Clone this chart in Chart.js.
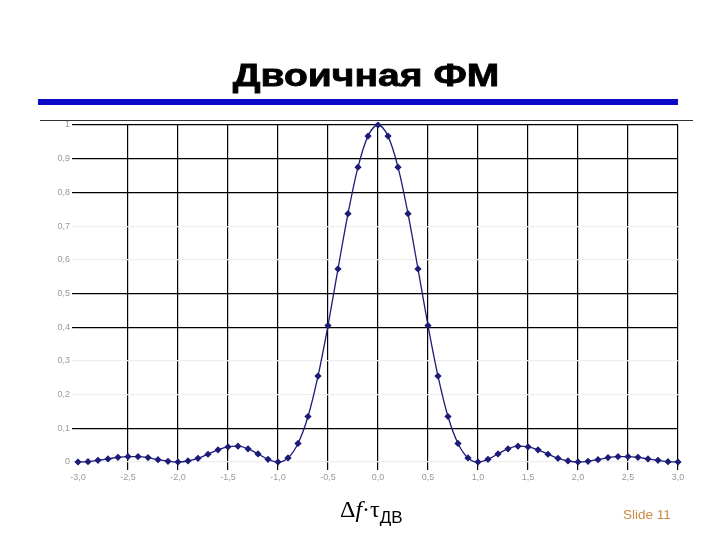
<!DOCTYPE html>
<html><head><meta charset="utf-8">
<script src="https://cdn.jsdelivr.net/npm/chart.js@4/dist/chart.umd.min.js"></script>
<style>
html,body{margin:0;padding:0;background:#fff;width:720px;height:540px;overflow:hidden;position:relative;font-family:"Liberation Sans",Arial,sans-serif}
#c{position:absolute;left:0;top:0}
#title{position:absolute;left:366px;top:57px;white-space:nowrap;font:bold 32px "Liberation Sans",Arial,sans-serif;color:#000;transform:translateX(-50%) scaleX(1.22);-webkit-text-stroke:0.8px #000}
#bar{position:absolute;left:38px;top:99px;width:640px;height:6px;background:#0a0ac8}
#topline{position:absolute;left:40px;top:120px;width:653px;height:1px;background:#333}
#xlab{position:absolute;left:340px;top:496px;font:24px "Liberation Serif","Times New Roman",serif;color:#000;white-space:nowrap}
#xlab sub{font:17px "Liberation Sans",Arial,sans-serif;vertical-align:-6px}
#slide{position:absolute;left:623px;top:507px;font:13.5px "Liberation Sans",Arial,sans-serif;color:#c98a4a}
</style></head><body>
<canvas id="c" width="720" height="540"></canvas>
<div id="title">Двоичная ФМ</div>
<div id="bar"></div>
<div id="topline"></div>
<div id="xlab">&Delta;<i>f</i>&middot;&tau;<sub>ДВ</sub></div>
<div id="slide">Slide 11</div>
<script>
const xValues = [-3.0,-2.9,-2.8,-2.7,-2.6,-2.5,-2.4,-2.3,-2.2,-2.1,-2.0,-1.9,-1.8,-1.7,-1.6,-1.5,-1.4,-1.3,-1.2,-1.1,-1.0,-0.9,-0.8,-0.7,-0.6,-0.5,-0.4,-0.3,-0.2,-0.1,0.0,0.1,0.2,0.3,0.4,0.5,0.6,0.7,0.8,0.9,1.0,1.1,1.2,1.3,1.4,1.5,1.6,1.7,1.8,1.9,2.0,2.1,2.2,2.3,2.4,2.5,2.6,2.7,2.8,2.9,3.0];
const yValues = [0.000,0.001,0.005,0.009,0.014,0.016,0.016,0.013,0.007,0.002,0.000,0.003,0.011,0.023,0.036,0.045,0.047,0.039,0.024,0.008,0.000,0.012,0.055,0.135,0.255,0.405,0.573,0.737,0.875,0.967,1.000,0.967,0.875,0.737,0.573,0.405,0.255,0.135,0.055,0.012,0.000,0.008,0.024,0.039,0.047,0.045,0.036,0.023,0.011,0.003,0.000,0.002,0.007,0.013,0.016,0.016,0.014,0.009,0.005,0.001,0.000];
const xTickValues = [-3.0,-2.5,-2.0,-1.5,-1.0,-0.5,0.0,0.5,1.0,1.5,2.0,2.5,3.0];
const xTickLabels = ["-3,0","-2,5","-2,0","-1,5","-1,0","-0,5","0,0","0,5","1,0","1,5","2,0","2,5","3,0"];
const yTickValues = [0,0.1,0.2,0.3,0.4,0.5,0.6,0.7,0.8,0.9,1];
const yTickLabels = ["0","0,1","0,2","0,3","0,4","0,5","0,6","0,7","0,8","0,9","1"];
const darkY = [0.1,0.4,0.5,0.8,0.9,1];

const pts = xValues.map((x,i)=>({x:x,y:yValues[i]}));
new Chart(document.getElementById('c'),{
  type:'line',
  data:{datasets:[{data:pts,borderColor:'#1c1c78',backgroundColor:'#1c1c78',borderWidth:1.3,
    pointStyle:'rectRot',pointRadius:2.7,pointHoverRadius:2.7,tension:0.4,cubicInterpolationMode:'monotone',fill:false,clip:false}]},
  options:{
    responsive:false,animation:false,
    layout:{padding:{left:0,top:125,right:42,bottom:48}},
    plugins:{legend:{display:false},tooltip:{enabled:false},title:{display:false}},
    scales:{
      x:{type:'linear',min:-3,max:3,
        afterBuildTicks:s=>{s.ticks=xTickValues.map(v=>({value:v}));},
        afterFit:s=>{s.height=30;},
        border:{display:false},
        grid:{color:c=>(Math.abs(c.tick.value+3)<1e-6?'rgba(0,0,0,0)':'#000'),lineWidth:1.2,tickLength:8,drawTicks:true},
        ticks:{padding:2,color:'#999',font:{size:9,family:'"Liberation Sans",Arial'},maxRotation:0,
          callback:(v)=>{const i=xTickValues.findIndex(t=>Math.abs(t-v)<1e-6);return i>=0?xTickLabels[i]:'';}}},
      y:{type:'linear',min:0,max:1,
        afterBuildTicks:s=>{s.ticks=yTickValues.map(v=>({value:v}));},
        afterFit:s=>{s.width=78;},
        border:{display:false},
        grid:{color:c=>(darkY.some(d=>Math.abs(d-c.tick.value)<1e-6)?'#000':'#eee'),lineWidth:1.2,tickLength:6},
        ticks:{padding:2,color:'#999',font:{size:9,family:'"Liberation Sans",Arial'},
          callback:(v)=>{const i=yTickValues.findIndex(t=>Math.abs(t-v)<1e-6);return i>=0?yTickLabels[i]:'';}}}
    }
  }
});
</script>
</body></html>
